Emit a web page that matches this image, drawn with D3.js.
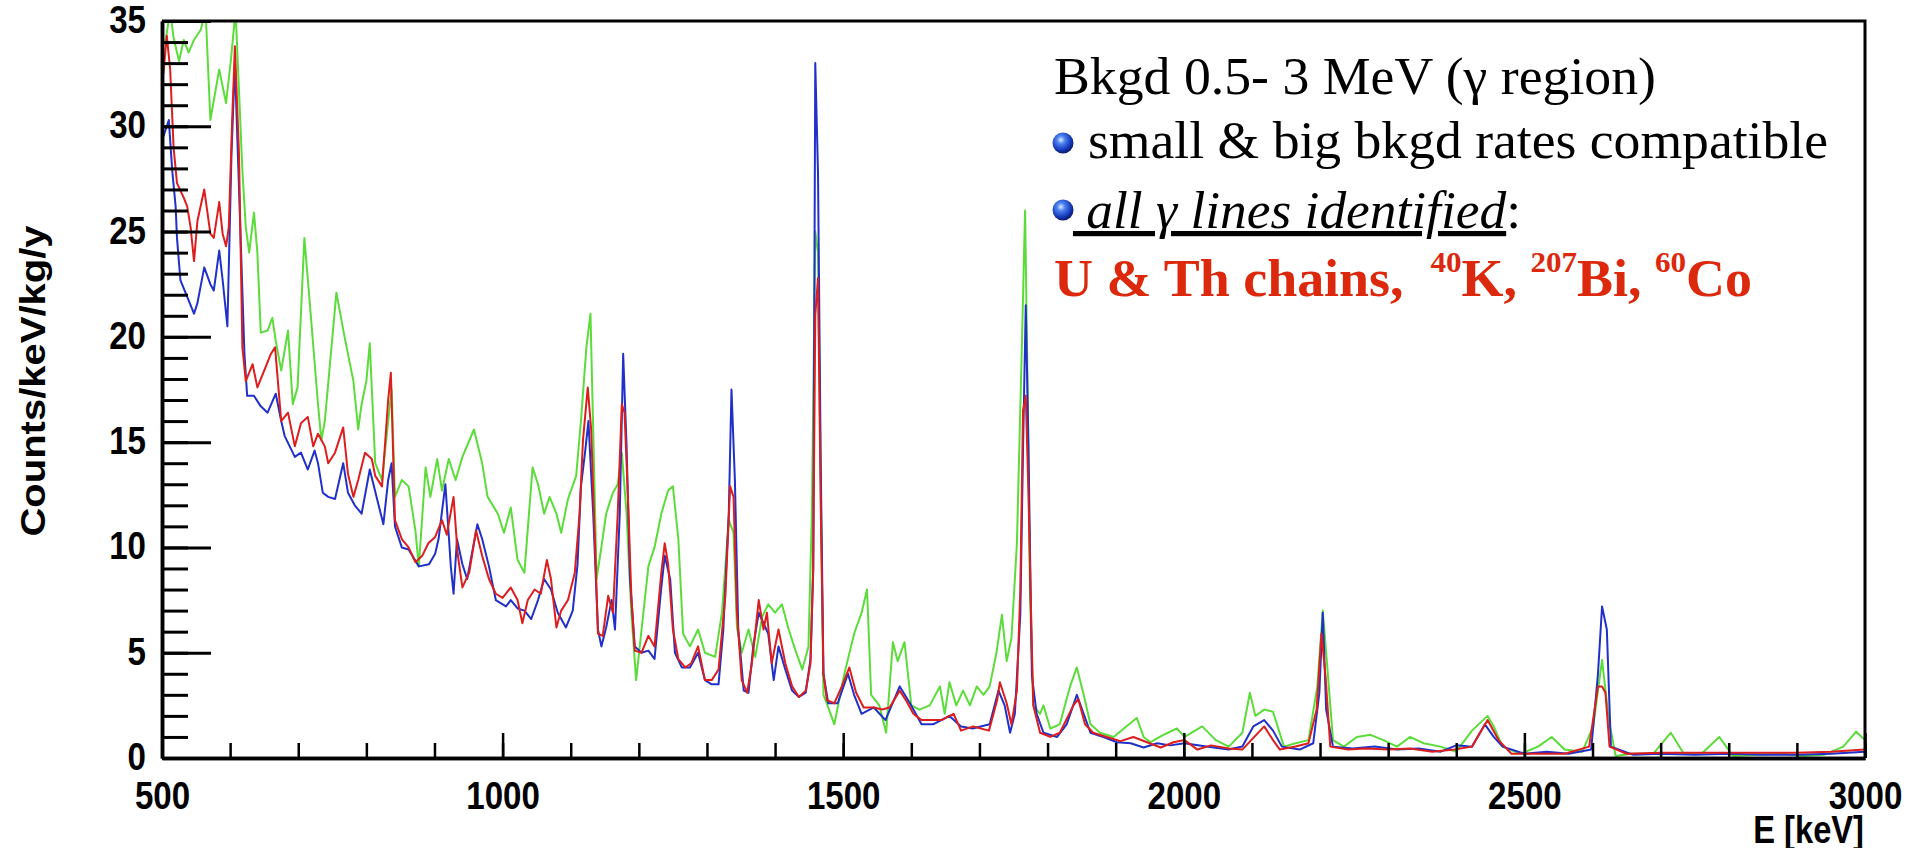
<!DOCTYPE html>
<html>
<head>
<meta charset="utf-8">
<script src="https://cdn.jsdelivr.net/npm/d3@7"></script>
<style>
  body { margin: 0; background: #fff; }
  svg { display: block; }
</style>
</head>
<body>
<svg width="1911" height="848"></svg>
<script>
// [energy keV, counts/keV/kg/y]
var blueSpec = [
  [502, 29.5], [510, 30.3], [515, 27.9], [520, 26.2], [522, 24.7], [527, 22.7], [537, 21.9], [547, 21.1],
  [552, 21.6], [562, 23.3], [571, 22.5], [576, 22.2], [584, 24.1], [589, 22.7], [596, 20.5], [602, 28.7],
  [607, 33.0], [613, 27.1], [621, 19.2], [625, 17.2], [635, 17.2], [645, 16.7], [655, 16.4], [667, 17.3],
  [675, 16.0], [680, 15.3], [695, 14.3], [704, 14.5], [714, 13.7], [724, 14.6], [729, 14.0], [736, 12.6],
  [744, 12.4], [754, 12.3], [766, 14.0], [773, 12.6], [783, 12.0], [793, 11.6], [805, 13.7], [818, 12.0],
  [825, 11.1], [832, 13.2], [837, 14.0], [842, 11.0], [852, 10.0], [862, 9.9], [877, 9.1], [892, 9.2],
  [901, 9.7], [906, 10.4], [916, 13.0], [924, 9.1], [928, 7.8], [933, 10.4], [941, 9.2], [948, 8.5],
  [963, 11.1], [970, 10.4], [980, 9.1], [990, 7.5], [1005, 7.2], [1012, 7.5], [1022, 7.1], [1032, 7.0],
  [1042, 6.6], [1052, 7.5], [1061, 8.5], [1071, 8.0], [1081, 6.9], [1093, 6.2], [1103, 7.0], [1110, 9.2],
  [1115, 12.9], [1121, 14.5], [1126, 16.0], [1133, 11.6], [1140, 6.1], [1145, 5.3], [1152, 6.2], [1160, 7.5],
  [1165, 6.1], [1172, 11.6], [1177, 19.2], [1182, 14.8], [1187, 8.5], [1194, 5.3], [1204, 5.0], [1214, 5.1],
  [1223, 4.7], [1233, 8.1], [1238, 9.6], [1246, 8.5], [1253, 5.0], [1263, 4.3], [1275, 4.3], [1287, 5.0],
  [1297, 3.7], [1307, 3.5], [1317, 3.5], [1324, 6.1], [1332, 11.6], [1336, 17.5], [1341, 13.2], [1346, 6.1],
  [1354, 3.2], [1361, 3.1], [1368, 5.3], [1376, 6.9], [1383, 6.4], [1390, 5.9], [1398, 3.7], [1405, 5.3],
  [1415, 4.2], [1425, 3.2], [1435, 2.9], [1445, 3.1], [1452, 4.7], [1456, 9.0], [1459, 33.0], [1463, 27.8],
  [1467, 14.0], [1471, 4.0], [1478, 2.6], [1492, 2.6], [1507, 4.0], [1516, 3.0], [1527, 2.1], [1545, 2.4],
  [1562, 1.8], [1583, 3.4], [1598, 2.6], [1615, 1.6], [1632, 1.6], [1656, 2.0], [1673, 1.5], [1690, 1.4],
  [1715, 1.6], [1728, 3.2], [1737, 2.5], [1745, 1.2], [1752, 2.1], [1760, 6.8], [1764, 14.7], [1768, 21.5],
  [1772, 14.7], [1777, 3.9], [1784, 2.1], [1794, 1.2], [1814, 1.0], [1828, 1.6], [1843, 3.0], [1853, 2.1],
  [1863, 1.2], [1882, 1.0], [1902, 0.75], [1922, 0.7], [1941, 0.5], [1961, 0.7], [1980, 0.6], [2001, 0.7],
  [2033, 0.55], [2066, 0.4], [2086, 0.55], [2102, 1.5], [2118, 1.8], [2131, 1.3], [2144, 0.54], [2170, 0.4],
  [2190, 0.7], [2199, 3.1], [2204, 6.9], [2209, 2.3], [2219, 0.54], [2248, 0.45], [2280, 0.55], [2313, 0.4],
  [2345, 0.45], [2377, 0.3], [2400, 0.6], [2423, 0.54], [2442, 1.6], [2455, 1.0], [2468, 0.54], [2500, 0.2],
  [2533, 0.3], [2565, 0.2], [2598, 0.4], [2608, 4.0], [2614, 7.2], [2621, 6.1], [2627, 0.54], [2660, 0.15],
  [2700, 0.2], [2750, 0.15], [2800, 0.2], [2850, 0.15], [2900, 0.15], [2950, 0.2], [3000, 0.3]
];

var redSpec = [
  [502, 32.5], [507, 34.3], [512, 32.7], [517, 29.0], [522, 27.3], [532, 26.6], [537, 26.2], [542, 25.2],
  [547, 23.6], [552, 25.5], [562, 27.0], [571, 24.9], [576, 24.7], [584, 26.4], [589, 24.9], [594, 24.3],
  [598, 25.2], [603, 30.3], [607, 33.8], [613, 28.7], [618, 19.5], [623, 17.9], [628, 18.3], [633, 18.7],
  [640, 17.6], [650, 18.4], [660, 19.2], [666, 19.5], [675, 16.0], [685, 16.4], [695, 14.8], [704, 15.9],
  [714, 16.2], [722, 14.8], [729, 15.4], [739, 14.8], [744, 14.0], [754, 14.5], [766, 15.7], [773, 13.5],
  [781, 12.4], [788, 13.2], [798, 14.5], [808, 14.2], [813, 13.4], [823, 12.9], [832, 17.0], [836, 18.3],
  [842, 11.3], [852, 10.4], [862, 10.0], [872, 9.3], [882, 9.6], [891, 10.2], [901, 10.5], [911, 11.3],
  [918, 10.6], [928, 12.4], [934, 9.7], [941, 8.1], [951, 8.8], [961, 10.8], [970, 9.6], [980, 8.5],
  [990, 7.8], [1000, 7.6], [1012, 8.1], [1022, 7.5], [1029, 6.4], [1037, 7.5], [1047, 8.0], [1056, 7.8],
  [1065, 9.4], [1071, 8.5], [1079, 6.2], [1086, 7.0], [1096, 7.5], [1106, 8.8], [1113, 11.6], [1118, 15.1],
  [1125, 17.6], [1130, 15.6], [1135, 10.8], [1140, 5.9], [1147, 5.8], [1155, 7.7], [1162, 6.9], [1169, 11.6],
  [1175, 16.8], [1179, 16.4], [1184, 12.4], [1189, 7.7], [1194, 5.1], [1204, 5.0], [1214, 5.8], [1223, 5.3],
  [1233, 8.8], [1238, 10.2], [1243, 9.2], [1250, 6.1], [1258, 4.7], [1268, 4.3], [1277, 4.5], [1287, 5.3],
  [1297, 3.7], [1307, 3.7], [1317, 4.2], [1327, 7.7], [1334, 12.9], [1339, 12.4], [1344, 6.9], [1351, 3.7],
  [1359, 3.1], [1366, 4.5], [1376, 7.5], [1383, 6.1], [1388, 6.9], [1395, 4.5], [1405, 6.1], [1415, 4.5],
  [1425, 3.4], [1435, 2.9], [1445, 3.2], [1452, 4.5], [1456, 9.0], [1459, 21.0], [1463, 22.8], [1467, 12.0],
  [1471, 4.0], [1476, 2.75], [1487, 2.6], [1498, 3.4], [1509, 4.3], [1519, 3.1], [1530, 2.4], [1545, 2.4],
  [1557, 2.3], [1568, 2.4], [1583, 3.2], [1592, 2.75], [1603, 2.1], [1615, 1.8], [1630, 1.8], [1644, 1.8],
  [1662, 2.1], [1673, 1.3], [1691, 1.5], [1714, 1.3], [1726, 2.75], [1730, 3.6], [1740, 2.6], [1747, 1.6],
  [1755, 3.2], [1760, 8.0], [1764, 16.5], [1768, 17.2], [1772, 12.5], [1775, 8.0], [1779, 2.5], [1789, 1.2],
  [1804, 1.0], [1818, 1.2], [1838, 2.5], [1845, 2.8], [1855, 1.6], [1867, 1.2], [1887, 1.0], [1907, 0.8],
  [1926, 1.0], [1946, 0.75], [1966, 0.5], [1985, 0.75], [2001, 0.85], [2020, 0.4], [2040, 0.6], [2066, 0.45],
  [2086, 0.4], [2099, 0.85], [2118, 1.5], [2131, 0.85], [2141, 0.4], [2164, 0.55], [2183, 0.7], [2195, 2.3],
  [2202, 5.9], [2208, 3.9], [2215, 0.54], [2241, 0.4], [2267, 0.45], [2300, 0.4], [2332, 0.45], [2365, 0.3],
  [2397, 0.4], [2423, 0.54], [2446, 1.8], [2462, 0.85], [2481, 0.2], [2520, 0.2], [2559, 0.2], [2595, 0.54],
  [2608, 3.4], [2614, 3.4], [2619, 3.1], [2625, 0.54], [2650, 0.2], [2700, 0.25], [2750, 0.25], [2800, 0.25],
  [2850, 0.25], [2900, 0.25], [2950, 0.3], [3000, 0.4]
];

var greenSpec = [
  [505, 34.0], [512, 35.5], [517, 34.2], [525, 33.1], [532, 34.1], [539, 33.5], [547, 34.1], [557, 34.6],
  [564, 35.5], [571, 30.3], [584, 32.7], [594, 31.1], [601, 33.1], [608, 35.5], [618, 27.9], [623, 25.2],
  [628, 24.0], [635, 25.9], [640, 24.0], [645, 20.2], [655, 20.3], [662, 20.9], [667, 19.8], [675, 18.4],
  [685, 20.3], [692, 16.8], [699, 17.6], [709, 24.7], [719, 20.8], [729, 16.8], [734, 15.1], [739, 16.0],
  [756, 22.1], [768, 20.0], [781, 17.9], [788, 15.6], [793, 16.8], [800, 17.9], [805, 19.7], [813, 14.0],
  [823, 13.2], [837, 17.5], [842, 12.4], [852, 13.2], [862, 12.9], [872, 10.8], [877, 9.1], [887, 13.8],
  [894, 12.4], [904, 14.2], [911, 12.7], [921, 14.2], [931, 13.2], [941, 14.3], [958, 15.6], [970, 14.0],
  [978, 12.4], [993, 11.6], [1002, 10.7], [1012, 11.9], [1022, 9.4], [1032, 8.8], [1044, 13.8], [1052, 13.0],
  [1061, 11.6], [1069, 12.4], [1079, 11.6], [1086, 10.7], [1096, 12.3], [1108, 13.4], [1115, 16.0], [1123, 19.5],
  [1129, 21.1], [1133, 15.6], [1138, 8.5], [1145, 10.0], [1152, 11.6], [1162, 12.6], [1169, 13.0], [1175, 14.5],
  [1182, 11.6], [1189, 6.9], [1196, 3.7], [1204, 6.1], [1214, 9.1], [1223, 10.0], [1233, 11.6], [1243, 12.7],
  [1250, 12.9], [1258, 10.4], [1265, 5.9], [1275, 5.3], [1287, 6.1], [1297, 5.0], [1312, 4.8], [1322, 6.9],
  [1332, 11.3], [1339, 10.7], [1344, 6.2], [1351, 5.0], [1361, 6.1], [1371, 4.8], [1381, 6.7], [1390, 7.3],
  [1400, 6.9], [1410, 7.3], [1420, 6.1], [1430, 5.1], [1440, 4.2], [1449, 5.3], [1454, 11.6], [1459, 25.0],
  [1463, 24.0], [1467, 13.0], [1471, 3.0], [1478, 2.4], [1487, 1.6], [1501, 3.9], [1516, 5.9], [1527, 6.9],
  [1535, 8.0], [1541, 3.0], [1553, 2.5], [1563, 1.2], [1573, 5.5], [1580, 4.6], [1590, 5.5], [1600, 2.5],
  [1612, 2.3], [1627, 2.5], [1642, 3.4], [1649, 2.1], [1656, 3.6], [1666, 2.5], [1676, 3.2], [1686, 2.5],
  [1696, 3.4], [1706, 3.0], [1715, 3.4], [1725, 5.0], [1733, 6.8], [1740, 4.6], [1747, 5.7], [1755, 10.2],
  [1762, 19.2], [1767, 26.0], [1771, 17.0], [1774, 8.0], [1779, 2.5], [1789, 2.1], [1794, 2.5], [1804, 1.4],
  [1818, 1.6], [1833, 3.4], [1843, 4.3], [1853, 3.0], [1863, 1.6], [1877, 1.2], [1897, 1.0], [1912, 1.4],
  [1931, 1.9], [1941, 1.0], [1951, 0.75], [1970, 1.1], [1990, 1.4], [2001, 1.0], [2027, 1.5], [2047, 0.85],
  [2066, 0.54], [2086, 1.2], [2097, 3.1], [2105, 2.0], [2118, 2.3], [2131, 2.2], [2147, 0.54], [2164, 0.7],
  [2183, 0.85], [2196, 3.4], [2204, 7.0], [2210, 4.6], [2219, 0.85], [2235, 0.54], [2254, 1.0], [2274, 1.1],
  [2293, 0.85], [2313, 0.54], [2332, 1.0], [2352, 0.7], [2377, 0.54], [2400, 0.3], [2423, 1.3], [2446, 2.0],
  [2455, 1.5], [2468, 0.54], [2494, 0.2], [2520, 0.54], [2540, 1.0], [2559, 0.4], [2585, 0.3], [2601, 1.5],
  [2614, 4.65], [2624, 1.8], [2634, 0.1], [2656, 0.2], [2689, 0.2], [2715, 1.2], [2734, 0.2], [2760, 0.2],
  [2786, 1.0], [2806, 0.1], [2840, 0.15], [2877, 0.2], [2910, 0.1], [2940, 0.15], [2968, 0.54], [2987, 1.25],
  [3000, 0.85]
];

var xMajorTicks = [500, 1000, 1500, 2000, 2500, 3000];
var yMajorTicks = [0, 5, 10, 15, 20, 25, 30, 35];
var xTitle = "E [keV]";
var yTitle = "Counts/keV/kg/y";

var svg = d3.select("svg");
const squeeze = 0.86; // the original slide was squashed horizontally

var x = d3.scaleLinear().domain([500, 3000]).range([162, 1865]);
var y = d3.scaleLinear().domain([0, 35]).range([758, 21]);

svg.append("rect").attr("width", 1911).attr("height", 848).attr("fill", "#fff");

svg.append("clipPath").attr("id", "plotclip")
  .append("rect")
  .attr("x", x(500)).attr("y", y(35))
  .attr("width", x(3000) - x(500)).attr("height", y(0) - y(35));

var line = d3.line().x(d => x(d[0])).y(d => y(d[1]));

var series = [
  { data: greenSpec, color: "#5cdc3a" },
  { data: blueSpec, color: "#2030c8" },
  { data: redSpec, color: "#dc1e1e" }
];

svg.append("g").attr("clip-path", "url(#plotclip)")
  .selectAll("path")
  .data(series)
  .enter()
  .append("path")
  .attr("d", d => line(d.data))
  .attr("fill", "none")
  .attr("stroke", d => d.color)
  .attr("stroke-width", 2)
  .attr("stroke-linejoin", "round");

// axes, ticks pointing inward like ROOT
function styleAxis(g, width) {
  g.attr("font-family", "'Liberation Sans', Arial, sans-serif")
    .attr("font-weight", "bold")
    .attr("font-size", 38.5);
  g.select(".domain").attr("stroke-width", 3.5);
  g.selectAll(".tick line").attr("stroke-width", width);
}

var xMinor = svg.append("g")
  .attr("transform", "translate(0," + y(0) + ")")
  .call(d3.axisBottom(x).tickValues(d3.range(500, 3001, 100)).tickSize(-15).tickSizeOuter(0).tickFormat(""));
styleAxis(xMinor, 2.5);

var xAxis = svg.append("g")
  .attr("transform", "translate(0," + y(0) + ")")
  .call(d3.axisBottom(x).tickValues(xMajorTicks).tickFormat(d3.format("d"))
    .tickSize(-25).tickSizeOuter(0).tickPadding(24));
styleAxis(xAxis, 2.5);
xAxis.selectAll("text").attr("transform", "scale(" + squeeze + ",1)");

var yMinor = svg.append("g")
  .attr("transform", "translate(" + x(500) + ",0)")
  .call(d3.axisLeft(y).tickValues(d3.range(0, 36, 1)).tickSize(-26).tickSizeOuter(0).tickFormat(""));
styleAxis(yMinor, 3);

var yAxis = svg.append("g")
  .attr("transform", "translate(" + x(500) + ",0)")
  .call(d3.axisLeft(y).tickValues(yMajorTicks).tickSize(-49).tickSizeOuter(0).tickPadding(16));
styleAxis(yAxis, 3);
yAxis.selectAll("text")
  .attr("x", -16 / squeeze)
  .attr("dy", "0.3em")
  .attr("transform", "scale(" + squeeze + ",1)");

// frame top and right
svg.append("path")
  .attr("d", "M" + x(500) + "," + y(35) + "H" + x(3000) + "V" + y(0))
  .attr("fill", "none")
  .attr("stroke", "#000")
  .attr("stroke-width", 3);

svg.append("text")
  .attr("transform", "translate(1864,843) scale(" + squeeze + ",1)")
  .attr("text-anchor", "end")
  .attr("font-family", "'Liberation Sans', Arial, sans-serif")
  .attr("font-weight", "bold")
  .attr("font-size", 38)
  .text(xTitle);

svg.append("text")
  .attr("transform", "translate(45,381) scale(" + squeeze + ",1) rotate(-90)")
  .attr("text-anchor", "middle")
  .attr("font-family", "'Liberation Sans', Arial, sans-serif")
  .attr("font-weight", "bold")
  .attr("font-size", 40)
  .text(yTitle);

// annotation box
var defs = svg.append("defs");
var grad = defs.append("radialGradient").attr("id", "ball")
  .attr("cx", "40%").attr("cy", "35%").attr("r", "65%");
grad.append("stop").attr("offset", "0%").attr("stop-color", "#dfeaff");
grad.append("stop").attr("offset", "30%").attr("stop-color", "#4b82f0");
grad.append("stop").attr("offset", "75%").attr("stop-color", "#1537b8");
grad.append("stop").attr("offset", "100%").attr("stop-color", "#0a1a70");

var serif = "'Liberation Serif', 'Times New Roman', serif";

svg.append("text")
  .attr("x", 1054).attr("y", 94)
  .attr("font-family", serif).attr("font-size", 52)
  .attr("textLength", 602).attr("lengthAdjust", "spacingAndGlyphs")
  .text("Bkgd 0.5- 3 MeV (\u03b3 region)");

svg.selectAll("circle.bullet")
  .data([143, 210])
  .enter()
  .append("circle")
  .attr("class", "bullet")
  .attr("cx", 1063).attr("cy", d => d)
  .attr("r", 10.5)
  .attr("fill", "url(#ball)");

svg.append("text")
  .attr("x", 1088).attr("y", 158)
  .attr("font-family", serif).attr("font-size", 52)
  .attr("textLength", 740).attr("lengthAdjust", "spacingAndGlyphs")
  .text("small & big bkgd rates compatible");

var l3 = svg.append("text")
  .attr("x", 1073).attr("y", 228)
  .attr("font-family", serif).attr("font-size", 52)
  .attr("textLength", 448).attr("lengthAdjust", "spacingAndGlyphs")
  .style("white-space", "pre");
l3.append("tspan")
  .attr("font-style", "italic")
  .attr("text-decoration", "underline")
  .text(" all \u03b3 lines identified");
l3.append("tspan").text(":");

var l4 = svg.append("text")
  .attr("x", 1054).attr("y", 296)
  .attr("font-family", serif).attr("font-size", 52)
  .attr("font-weight", "bold").attr("fill", "#dc280c")
  .attr("textLength", 698).attr("lengthAdjust", "spacingAndGlyphs")
  .style("white-space", "pre");
l4.append("tspan").text("U & Th chains,  ");
l4.append("tspan").attr("font-size", 30).attr("dy", -24).text("40");
l4.append("tspan").attr("dy", 24).text("K, ");
l4.append("tspan").attr("font-size", 30).attr("dy", -24).text("207");
l4.append("tspan").attr("dy", 24).text("Bi, ");
l4.append("tspan").attr("font-size", 30).attr("dy", -24).text("60");
l4.append("tspan").attr("dy", 24).text("Co");
</script>
</body>
</html>
